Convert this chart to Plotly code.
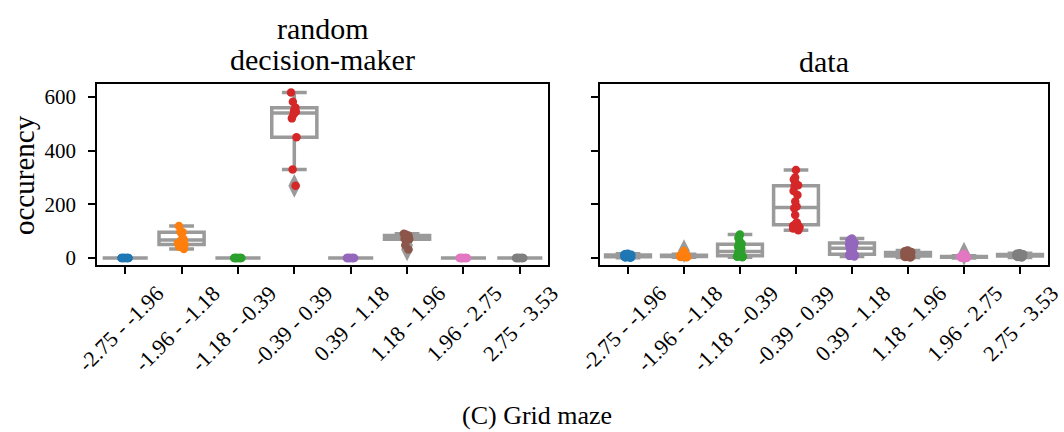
import plotly.graph_objects as go

categories = ["-2.75 - -1.96", "-1.96 - -1.18", "-1.18 - -0.39", "-0.39 - 0.39",
              "0.39 - 1.18", "1.18 - 1.96", "1.96 - 2.75", "2.75 - 3.53"]
colors = ["#1f77b4", "#ff7f0e", "#2ca02c", "#d62728",
          "#9467bd", "#8c564b", "#e377c2", "#7f7f7f"]

# random decision-maker: occurrences per bin (10 runs)
random_dm = [
    [0, 0, 0, 0, 0, 0, 0, 0, 0, 0],
    [34, 42, 50, 56, 64, 70, 92, 96, 99, 119],
    [0, 0, 0, 0, 0, 0, 0, 0, 0, 0],
    [269, 330, 450, 520, 535, 545, 550, 560, 582, 616],
    [0, 0, 0, 0, 0, 0, 0, 0, 0, 0],
    [32, 48, 70, 72, 75, 77, 80, 84, 88, 90],
    [0, 0, 0, 0, 0, 0, 0, 0, 0, 0],
    [0, 0, 0, 0, 0, 0, 0, 0, 0, 0],
]

# data: occurrences per bin (20 runs)
data_obs = [
    [1, 2, 3, 4, 5, 5, 6, 6, 7, 8, 8, 9, 10, 10, 11, 12, 13, 14, 15, 16],
    [3, 4, 4, 5, 5, 6, 6, 7, 7, 8, 8, 9, 9, 10, 10, 11, 12, 13, 14, 26],
    [3, 5, 6, 7, 8, 9, 12, 15, 18, 22, 26, 30, 36, 42, 50, 53, 62, 75, 84, 88],
    [103, 110, 115, 120, 122, 125, 128, 132, 160, 185, 192, 210, 235, 250, 268, 271, 280, 292, 300, 328],
    [6, 8, 10, 12, 13, 15, 20, 25, 30, 35, 37, 40, 45, 50, 55, 57, 60, 65, 70, 73],
    [2, 4, 5, 6, 7, 8, 10, 11, 12, 13, 14, 15, 17, 19, 20, 22, 24, 25, 27, 28],
    [0, 1, 1, 2, 2, 3, 3, 3, 4, 4, 4, 5, 5, 5, 6, 6, 7, 7, 8, 16],
    [2, 4, 5, 6, 7, 8, 8, 9, 9, 10, 10, 11, 12, 12, 13, 14, 15, 16, 17, 18],
]

panel_titles = [["random", "decision-maker"], ["data"]]
y_ticks = [0, 200, 400, 600]
y_label = "occurency"
caption = "(C) Grid maze"

FONT = "Liberation Serif"
GRAY = "#9a9a9a"
W, H = 1064, 432

fig = go.Figure()

def add_panel(values, xa, ya):
    xs, ys = [], []
    for cat, vals in zip(categories, values):
        xs += [cat] * len(vals)
        ys += vals
    fig.add_trace(go.Box(
        x=xs, y=ys, xaxis=xa, yaxis=ya,
        boxpoints="outliers", quartilemethod="exclusive",
        width=0.8, whiskerwidth=0.55,
        line=dict(color=GRAY, width=3.5), fillcolor="white",
        marker=dict(symbol="diamond-tall", size=17, color=GRAY, line=dict(width=0)),
        showlegend=False, hoverinfo="skip",
    ))
    for cat, vals, col in zip(categories, values, colors):
        fig.add_trace(go.Box(
            x=[cat] * len(vals), y=vals, xaxis=xa, yaxis=ya,
            boxpoints="all", jitter=0.2, pointpos=0, width=0.8,
            line=dict(width=0, color="rgba(0,0,0,0)"), fillcolor="rgba(0,0,0,0)",
            marker=dict(size=8.5, color=col, line=dict(width=0)),
            showlegend=False, hoverinfo="skip",
        ))

add_panel(random_dm, "x", "y")
add_panel(data_obs, "x2", "y2")

axis_common = dict(
    showline=True, linecolor="black", linewidth=1.8, mirror=True,
    ticks="outside", ticklen=7, tickwidth=1.6, tickcolor="black",
    showgrid=False, zeroline=False, automargin=False,
)
xcat = dict(type="category", categoryorder="array", categoryarray=categories,
            range=[-0.5, 7.5], tickangle=-45, ticklabelshift=32, ticklabelstandoff=-2,
            tickfont=dict(family=FONT, size=22, color="black"))
yd = [1 - 265 / H, 1 - 84 / H]
xd1 = [97 / W, 548 / W]
xd2 = [600 / W, 1048 / W]
fig.update_layout(
    width=W, height=H,
    margin=dict(l=0, r=0, t=0, b=0),
    paper_bgcolor="white", plot_bgcolor="white",
    boxmode="overlay",
    xaxis=dict(domain=xd1, anchor="y", **xcat, **axis_common),
    xaxis2=dict(domain=xd2, anchor="y2", **xcat, **axis_common),
    yaxis=dict(domain=yd, range=[-26, 648], tickvals=y_ticks, anchor="x",
               ticklabelstandoff=8, tickfont=dict(family=FONT, size=21, color="black"),
               **axis_common),
    yaxis2=dict(domain=yd, range=[-26, 648], tickvals=y_ticks, showticklabels=False,
                anchor="x2", matches="y", **axis_common),
)

def text(t, xpx, ypx, size, yanchor="bottom", angle=0):
    fig.add_annotation(text=t, x=xpx / W, y=1 - ypx / H, xref="paper", yref="paper",
                       xanchor="center", yanchor=yanchor, showarrow=False, textangle=angle,
                       font=dict(family=FONT, size=size, color="black"))

cx1 = (97 + 548) / 2
cx2 = (600 + 1048) / 2
text(panel_titles[0][0], cx1, 47, 30)
text(panel_titles[0][1], cx1, 78, 30)
text(panel_titles[1][0], cx2, 80, 30)
text(y_label, 24, 175, 29, yanchor="middle", angle=-90)
text(caption, 537, 432, 26)

fig.write_html("out.html")
